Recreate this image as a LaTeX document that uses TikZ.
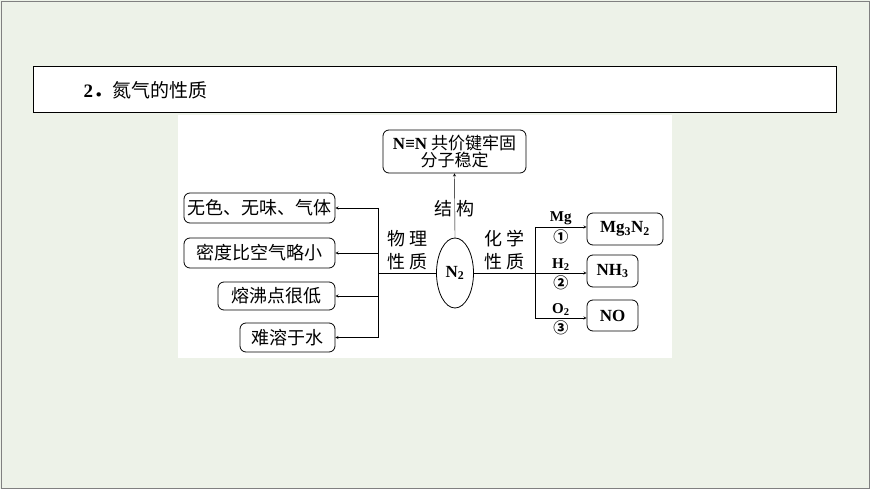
\documentclass[tikz,border=0pt]{standalone}
\usepackage{fontspec}
\setmainfont{Liberation Serif}
\newfontfamily\cjk{Noto Sans CJK SC}
\usetikzlibrary{arrows,shapes.geometric}
\definecolor{pagebg}{RGB}{237,242,232}
\begin{document}
\begin{tikzpicture}[x=1pt,y=-1pt,>=stealth,font=\fontsize{18}{21}\selectfont\cjk]
\tikzstyle{block} = [rectangle, draw, thick, rounded corners=6pt, fill=white, inner sep=0pt]
\tikzstyle{line} = [draw, ->]
\tikzstyle{tag} = [inner sep=0pt, font=\fontsize{15}{17}\selectfont\rmfamily\bfseries]
\tikzstyle{chem} = [font=\fontsize{17}{19}\selectfont\rmfamily\bfseries]
% frame and title
\fill[pagebg] (0,0) rectangle (870,489);
\draw[gray] (1,1) rectangle (869,488);
\draw[fill=white] (33,66) rectangle (836,112);
\node[anchor=west] (title) at (80,90) {\fontsize{19}{22}\selectfont\rmfamily\textbf{2}\cjk\bfseries ．\mdseries 氮气的性质};
\fill[white] (178,115) rectangle (672,358);
% centre
\node[ellipse, draw, thick, fill=white, minimum width=37, minimum height=70, inner sep=0pt, chem] (n2) at (455,273) {N\textsubscript{2}};
\node[block, minimum width=143, minimum height=43, align=center, font=\fontsize{17}{17}\selectfont\cjk] (struct) at (454.5,151.5) {\textbf{\rmfamily N≡N} 共价键牢固\\分子稳定};
% left
\node[block, minimum width=151, minimum height=30] (p1) at (259.5,208) {无色、无味、气体};
\node[block, minimum width=151, minimum height=30] (p2) at (259.5,253) {密度比空气略小};
\node[block, minimum width=117, minimum height=28] (p3) at (276.5,296) {熔沸点很低};
\node[block, minimum width=95, minimum height=29] (p4) at (287.5,337.5) {难溶于水};
% right
\node[block, minimum width=76, minimum height=32, chem] (c1) at (625,229) {Mg\textsubscript{3}N\textsubscript{2}};
\node[block, minimum width=51, minimum height=32, chem] (c2) at (612.5,271) {NH\textsubscript{3}};
\node[block, minimum width=51, minimum height=31, chem] (c3) at (612.5,315.5) {NO};
\coordinate (lj) at (378,273);
\coordinate (rj) at (535,273);
\path[line] (n2.north) -- node[pos=0.45] {结 构} (struct.south);
\draw (n2.west) -- node[above=0pt, align=center] {物 理\\[2pt]性 质} (lj);
\draw (n2.east) -- node[above=0pt, align=center] {化 学\\[2pt]性 质} (rj);
\draw (lj |- p1) -- (lj |- p4);
\path[line] (lj |- p1) -- (p1);
\path[line] (lj |- p2) -- (p2);
\path[line] (lj |- p3) -- (p3);
\path[line] (lj |- p4) -- (p4);
\draw (535,227) -- (535,318);
\path[line] (535,227) -- node[above=2pt, tag] {Mg} node[below=2pt, tag] {\cjk ①} (c1.west |- 0,227);
\path[line] (rj) -- node[above=2pt, tag] {H\textsubscript{2}} node[below=2pt, tag] {\cjk ②} (c2.west |- rj);
\path[line] (535,318) -- node[above=2pt, tag] {O\textsubscript{2}} node[below=2pt, tag] {\cjk ③} (c3.west |- 0,318);
\end{tikzpicture}
\end{document}
